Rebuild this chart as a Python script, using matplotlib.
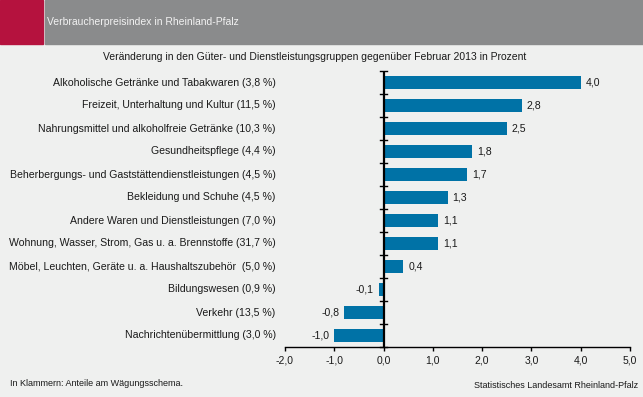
import matplotlib
matplotlib.use("Agg")
import matplotlib.pyplot as plt
from matplotlib.patches import Rectangle

categories = [
    "Alkoholische Getränke und Tabakwaren (3,8 %)",
    "Freizeit, Unterhaltung und Kultur (11,5 %)",
    "Nahrungsmittel und alkoholfreie Getränke (10,3 %)",
    "Gesundheitspflege (4,4 %)",
    "Beherbergungs- und Gaststättendienstleistungen (4,5 %)",
    "Bekleidung und Schuhe (4,5 %)",
    "Andere Waren und Dienstleistungen (7,0 %)",
    "Wohnung, Wasser, Strom, Gas u. a. Brennstoffe (31,7 %)",
    "Möbel, Leuchten, Geräte u. a. Haushaltszubehör  (5,0 %)",
    "Bildungswesen (0,9 %)",
    "Verkehr (13,5 %)",
    "Nachrichtenübermittlung (3,0 %)",
]
values = [4.0, 2.8, 2.5, 1.8, 1.7, 1.3, 1.1, 1.1, 0.4, -0.1, -0.8, -1.0]
xticks = [-2, -1, 0, 1, 2, 3, 4, 5]
xticklabels = ["-2,0", "-1,0", "0,0", "1,0", "2,0", "3,0", "4,0", "5,0"]

plt.rcParams['font.family'] = ['Liberation Sans', 'DejaVu Sans']
W, H = 643, 397
bg = "#eff0ef"
fig = plt.figure(figsize=(W / 100, H / 100), dpi=100, facecolor=bg)

# header
fig.patches.append(Rectangle((0, 1 - 44 / H), 43 / W, 44 / H, transform=fig.transFigure,
                             color="#b5123e", zorder=0))
fig.patches.append(Rectangle((45 / W, 1 - 44 / H), 1 - 45 / W, 44 / H, transform=fig.transFigure,
                             color="#8a8b8c", zorder=0))
fig.text(47 / W, 1 - 22 / H, "Verbraucherpreisindex in Rheinland-Pfalz", color="#f2f2f2",
         fontsize=7.5, va="center", ha="left")

fig.text(315 / W, 1 - 57 / H,
         "Veränderung in den Güter- und Dienstleistungsgruppen gegenüber Februar 2013 in Prozent",
         fontsize=7.5, va="center", ha="center", color="#1a1a1a")

left, right = 285 / W, 630 / W
top, bottom = 1 - 71 / H, 1 - 347 / H
ax = fig.add_axes([left, bottom, right - left, top - bottom])
ax.set_facecolor(bg)
n = len(categories)
ypos = list(range(n))
ax.barh(ypos, values, height=0.57, color="#0072a6", zorder=2)
ax.set_xlim(-2, 5)
ax.set_ylim(n - 0.5, -0.5)
ax.set_xticks(xticks)
ax.set_xticklabels(xticklabels, fontsize=7.5, color="#1a1a1a")
ax.set_yticks([])
for s in ["top", "right", "left"]:
    ax.spines[s].set_visible(False)
ax.spines["bottom"].set_linewidth(1.0)
ax.tick_params(axis="x", length=3, width=1, pad=3)
ax.axvline(0, color="black", lw=1.6, zorder=3)
for b in range(n + 1):
    ax.plot([-0.07, 0.07], [b - 0.5, b - 0.5], color="black", lw=1, zorder=3, clip_on=False)

for y, v, c in zip(ypos, values, categories):
    lab = f"{v:.1f}".replace(".", ",")
    if v >= 0:
        ax.text(v + 0.1, y, lab, va="center", ha="left", fontsize=7.6, color="#1a1a1a")
    else:
        ax.text(v - 0.1, y, lab, va="center", ha="right", fontsize=7.6, color="#1a1a1a")
    ax.text(-2.19, y, c, va="center", ha="right", fontsize=7.6, color="#1a1a1a")

fig.text(10 / W, 1 - 383 / H, "In Klammern: Anteile am Wägungsschema.", fontsize=6.5,
         va="center", ha="left", color="#1a1a1a")
fig.text(638 / W, 1 - 386 / H, "Statistisches Landesamt Rheinland-Pfalz", fontsize=6.5,
         va="center", ha="right", color="#1a1a1a")

fig.savefig("out.png", dpi=100, facecolor=bg)
